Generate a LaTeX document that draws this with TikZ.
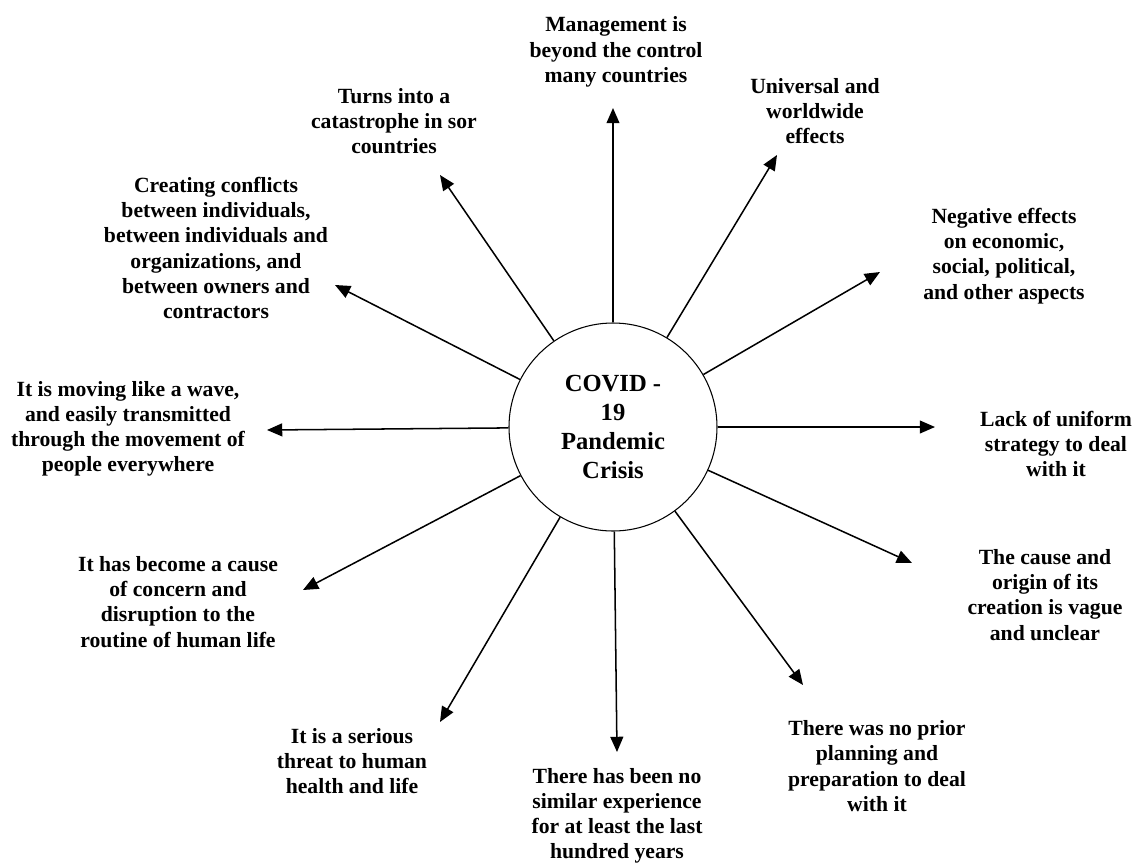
\documentclass[tikz,border=0pt]{standalone}
\usepackage{fontspec}
\setmainfont{Liberation Serif}
\usetikzlibrary{arrows.meta}
\tikzset{every path/.style={black, line width=1.3pt},
  every node/.style={align=center, inner sep=0pt, font=\bfseries\fontsize{18.5}{21.5}\selectfont},
  hub/.style={circle, draw, line width=0.9pt, minimum size=6.24cm, font=\bfseries\fontsize{21}{24.5}\selectfont},
  spoke/.style={-{Triangle[length=13pt,width=11pt]}}}

\begin{document}
\begin{tikzpicture}[x=0.03cm, y=-0.03cm]
  \useasboundingbox (0,0) rectangle (1134,863);

  \node[hub] (crisis) at ( 613, 427) {COVID -\\19\\Pandemic\\Crisis};

  \coordinate (tmgmt)  at ( 613, 108);
  \coordinate (tuniv)  at ( 777, 155);
  \coordinate (tneg)   at ( 880, 272);
  \coordinate (tlack)  at ( 935, 427);
  \coordinate (tcause) at ( 912, 563);
  \coordinate (tprior) at ( 803, 685);
  \coordinate (thund)  at ( 617, 752);
  \coordinate (tser)   at ( 440, 722);
  \coordinate (tconc)  at ( 303, 590);
  \coordinate (tmove)  at ( 267, 430);
  \coordinate (tconf)  at ( 335, 285);
  \coordinate (tturn)  at ( 440, 175);

  \node (mgmt)  at ( 616,  52) {Management is\\beyond the control\\many countries};
  \node (univ)  at ( 815, 111) {Universal and\\worldwide\\effects};
  \node (neg)   at (1004, 256) {Negative effects\\on economic,\\social, political,\\and other aspects};
  \node (lack)  at (1056, 444) {Lack of uniform\\strategy to deal\\with it};
  \node (cause) at (1045, 595) {The cause and\\origin of its\\creation is vague\\and unclear};
  \node (prior) at ( 877, 766) {There was no prior\\planning and\\preparation to deal\\with it};
  \node (hund)  at ( 617, 816) {There has been no\\similar experience\\for at least the last\\hundred years};
  \node (ser)   at ( 352, 761) {It is a serious\\threat to human\\health and life};
  \node (conc)  at ( 178, 602) {It has become a cause\\of concern and\\disruption to the\\routine of human life};
  \node (move)  at ( 128, 429) {It is moving like a wave,\\and easily transmitted\\through the movement of\\people everywhere};
  \node (conf)  at ( 216, 248) {Creating conflicts\\between individuals,\\between individuals and\\organizations, and\\between owners and\\contractors};
  \node (turn)  at ( 394, 121) {Turns into a\\catastrophe in sor\\countries};

  \draw[spoke] (crisis) -- (tmgmt);
  \draw[spoke] (crisis) -- (tuniv);
  \draw[spoke] (crisis) -- (tneg);
  \draw[spoke] (crisis) -- (tlack);
  \draw[spoke] (crisis) -- (tcause);
  \draw[spoke] (crisis) -- (tprior);
  \draw[spoke] (crisis) -- (thund);
  \draw[spoke] (crisis) -- (tser);
  \draw[spoke] (crisis) -- (tconc);
  \draw[spoke] (crisis) -- (tmove);
  \draw[spoke] (crisis) -- (tconf);
  \draw[spoke] (crisis) -- (tturn);
\end{tikzpicture}
\end{document}
